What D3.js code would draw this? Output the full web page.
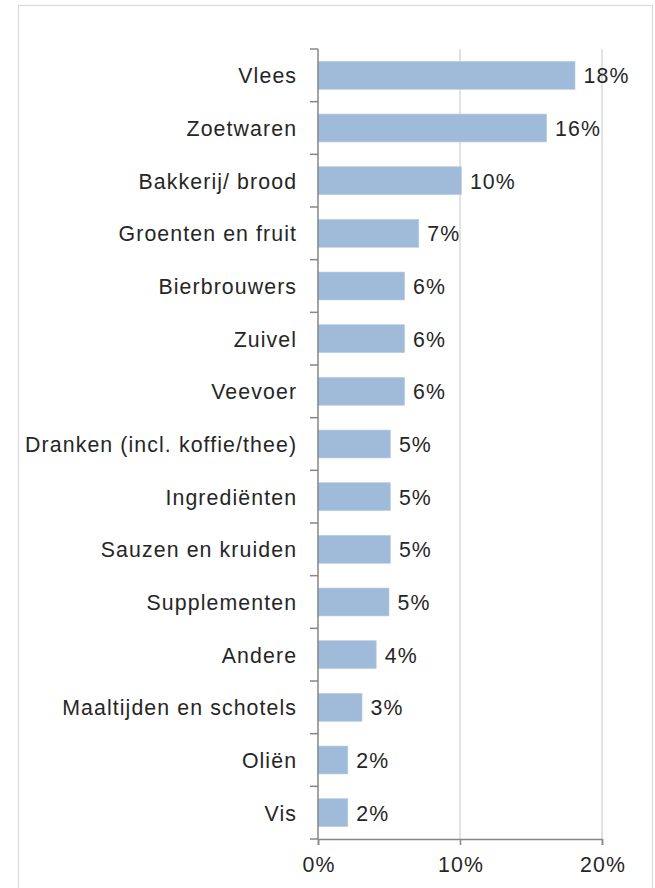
<!DOCTYPE html>
<html>
<head>
<meta charset="utf-8">
<script src="https://cdn.jsdelivr.net/npm/d3@7"></script>
<style>
  body { margin: 0; background: #fff; }
  svg text { font-family: "Liberation Sans", Arial, sans-serif; }
</style>
</head>
<body>
<div id="chart"></div>
<script>
// data
const categories = ["Vlees", "Zoetwaren", "Bakkerij/ brood", "Groenten en fruit", "Bierbrouwers",
  "Zuivel", "Veevoer", "Dranken (incl. koffie/thee)", "Ingrediënten", "Sauzen en kruiden",
  "Supplementen", "Andere", "Maaltijden en schotels", "Oliën", "Vis"];
const values = [18.1, 16.1, 10.1, 7.1, 6.1, 6.1, 6.1, 5.1, 5.1, 5.1, 5.0, 4.1, 3.1, 2.1, 2.1];
const xTicks = [0, 10, 20];

const width = 655, height = 888;
const margin = {top: 49, right: 53, bottom: 49, left: 318};
const fontSize = '21.3px';
const spacing = 1.1;
const textColor = '#262626';

const svg = d3.select('#chart').append('svg')
  .attr('width', width)
  .attr('height', height);

// outer frame
svg.append('rect')
  .attr('x', 18.5).attr('y', 5.5)
  .attr('width', 634).attr('height', 900)
  .attr('fill', 'none')
  .attr('stroke', '#d9d9d9')
  .attr('stroke-width', 1.2);

const x = d3.scaleLinear().domain([0, 20]).range([margin.left, width - margin.right]);
const y = d3.scaleBand().domain(categories).range([margin.top, height - margin.bottom]).paddingInner(0.47).paddingOuter(0.235);

// gridlines
svg.append('g')
  .selectAll('line')
  .data(xTicks.filter(d => d > 0))
  .enter()
  .append('line')
  .attr('x1', d => x(d)).attr('x2', d => x(d))
  .attr('y1', margin.top).attr('y2', height - margin.bottom)
  .attr('stroke', '#d9d9d9')
  .attr('stroke-width', 1.5);

// bars
svg.append('g')
  .selectAll('rect')
  .data(categories)
  .enter()
  .append('rect')
  .attr('x', x(0))
  .attr('y', d => y(d))
  .attr('width', (d, i) => x(values[i]) - x(0))
  .attr('height', y.bandwidth())
  .attr('fill', '#a0bbd9')
  .attr('stroke', '#b8cde4')
  .attr('stroke-width', 0.6);

// value labels
svg.append('g')
  .selectAll('text')
  .data(categories)
  .enter()
  .append('text')
  .attr('x', (d, i) => x(values[i]) + 8.5)
  .attr('y', d => y(d) + y.bandwidth() / 2)
  .attr('dy', '0.38em')
  .attr('font-size', fontSize)
  .attr('letter-spacing', spacing)
  .attr('fill', textColor)
  .text((d, i) => Math.round(values[i]) + '%');

// y axis: line + ticks at band edges
const edges = d3.range(categories.length + 1).map(i => margin.top + i * y.step());
const axisColor = '#868686';
svg.append('line')
  .attr('x1', x(0)).attr('x2', x(0))
  .attr('y1', margin.top).attr('y2', height - margin.bottom)
  .attr('stroke', axisColor).attr('stroke-width', 1.5);
svg.append('g')
  .selectAll('line')
  .data(edges)
  .enter()
  .append('line')
  .attr('x1', x(0) - 8).attr('x2', x(0))
  .attr('y1', d => d).attr('y2', d => d)
  .attr('stroke', axisColor).attr('stroke-width', 1.5);

// category labels
svg.append('g')
  .selectAll('text')
  .data(categories)
  .enter()
  .append('text')
  .attr('x', x(0) - 22 + spacing)
  .attr('y', d => y(d) + y.bandwidth() / 2)
  .attr('dy', '0.38em')
  .attr('text-anchor', 'end')
  .attr('font-size', fontSize)
  .attr('letter-spacing', spacing)
  .attr('fill', textColor)
  .text(d => d);

// x axis
const xAxis = svg.append('g')
  .attr('transform', `translate(0, ${height - margin.bottom})`)
  .call(d3.axisBottom(x).tickValues(xTicks).tickSize(6).tickPadding(12).tickFormat(d => d + '%'));
xAxis.select('.domain').attr('stroke', axisColor).attr('stroke-width', 1.5);
xAxis.selectAll('.tick line').attr('stroke', axisColor).attr('stroke-width', 1.5);
xAxis.selectAll('.tick text')
  .attr('font-size', fontSize)
  .attr('font-family', '"Liberation Sans", Arial, sans-serif')
  .attr('letter-spacing', spacing)
  .attr('dx', spacing / 2)
  .attr('fill', textColor);
</script>
</body>
</html>
